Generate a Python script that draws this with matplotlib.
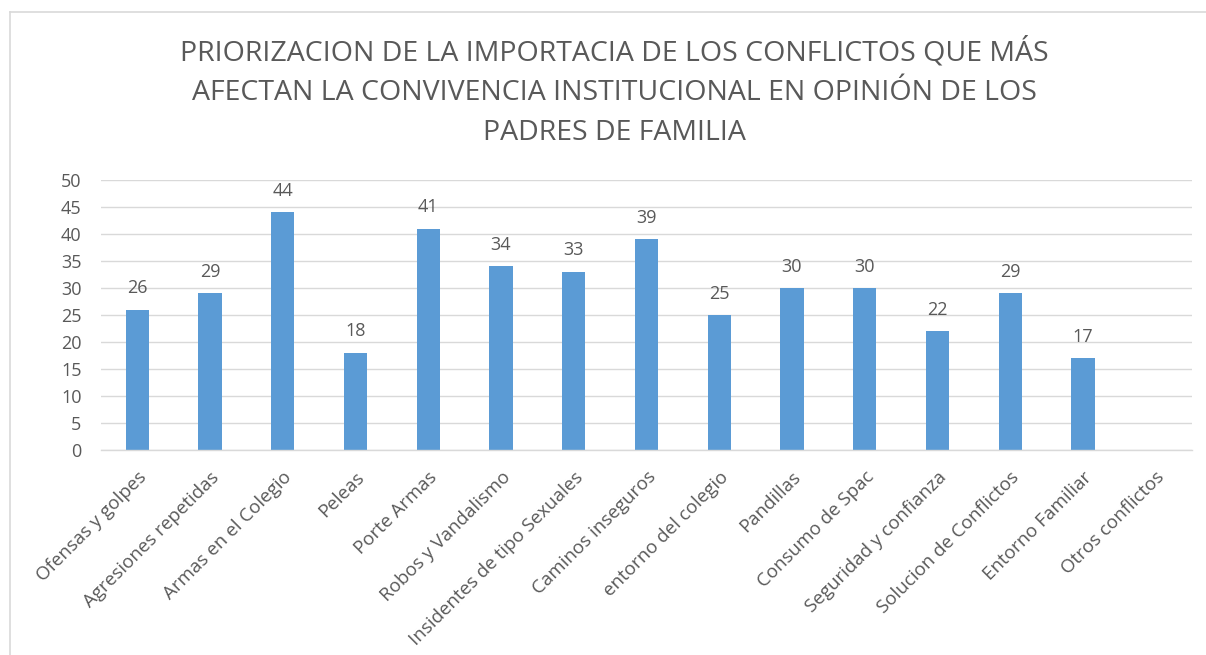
import matplotlib
matplotlib.use("Agg")
import matplotlib.pyplot as plt
from matplotlib.lines import Line2D

categories = [
    "Ofensas y golpes", "Agresiones repetidas", "Armas en el Colegio", "Peleas",
    "Porte Armas", "Robos y Vandalismo", "Insidentes de tipo Sexuales",
    "Caminos inseguros", "entorno del colegio", "Pandillas", "Consumo de Spac",
    "Seguridad y confianza", "Solucion de Conflictos", "Entorno Familiar",
    "Otros conflictos",
]
values = [26, 29, 44, 18, 41, 34, 33, 39, 25, 30, 30, 22, 29, 17, None]
yticks = [0, 5, 10, 15, 20, 25, 30, 35, 40, 45, 50]
title = ("PRIORIZACION DE LA IMPORTACIA DE LOS CONFLICTOS QUE MÁS\n"
         "AFECTAN LA CONVIVENCIA INSTITUCIONAL EN OPINIÓN DE LOS\n"
         "PADRES DE FAMILIA")

plt.rcParams["font.family"] = ["Open Sans", "DejaVu Sans"]
W, H = 1206, 655
fig = plt.figure(figsize=(W / 100, H / 100), dpi=100)
ax = fig.add_axes([101 / W, 1 - 450 / H, (1192 - 101) / W, 270 / H])

text_color = "#595959"
grid_color = "#D9D9D9"
bar_color = "#5B9BD5"

xs = list(range(len(categories)))
heights = [v if v is not None else 0 for v in values]
ax.bar(xs, heights, width=0.32, color=bar_color, zorder=2)
for x, v in zip(xs, values):
    if v is not None:
        ax.text(x, v + 2.3, str(v), ha="center", va="bottom", fontsize=13, color=text_color)

ax.set_xlim(-0.5, len(categories) - 0.5)
ax.set_ylim(0, 50)
ax.set_yticks(yticks)
ax.set_yticklabels([str(t) for t in yticks], fontsize=13, color=text_color)
ax.set_xticks(xs)
ax.set_xticklabels(categories, rotation=45, ha="right", rotation_mode="anchor",
                   fontsize=13.5, color=text_color)
ax.tick_params(axis="both", length=0)
ax.tick_params(axis="y", pad=14)
ax.tick_params(axis="x", pad=13)
ax.grid(axis="y", color=grid_color, linewidth=1, zorder=0)
for side in ["top", "right", "left"]:
    ax.spines[side].set_visible(False)
ax.spines["bottom"].set_color(grid_color)
ax.spines["bottom"].set_linewidth(1)

fig.text(614 / W, 1 - 92 / H, title, ha="center", va="center", fontsize=20.5,
         color=text_color, linespacing=1.56)

# chart border (top and left visible)
fig.add_artist(Line2D([10 / W, 1], [1 - 12 / H, 1 - 12 / H], color=grid_color, linewidth=1.2,
                      transform=fig.transFigure))
fig.add_artist(Line2D([10 / W, 10 / W], [0, 1 - 12 / H], color=grid_color, linewidth=1.2,
                      transform=fig.transFigure))

fig.savefig("out.png", dpi=100, facecolor="white")
